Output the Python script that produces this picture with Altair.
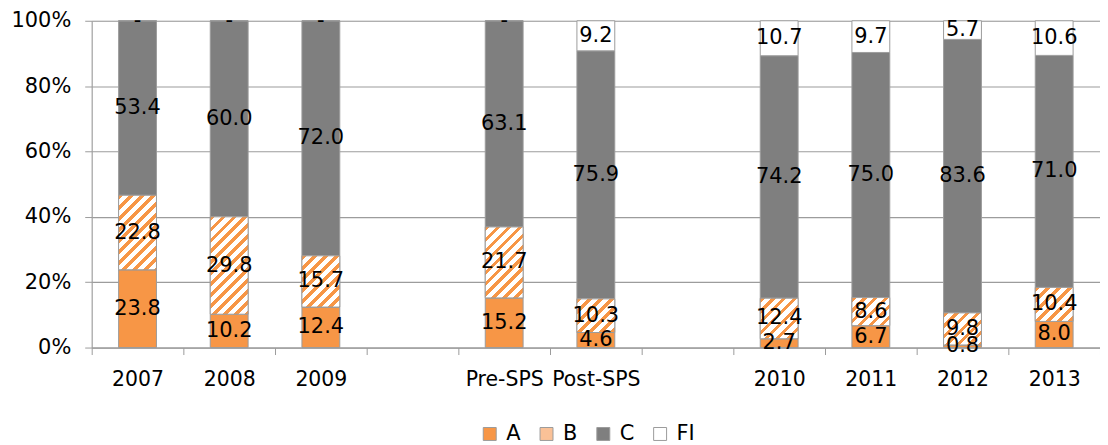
import math
import altair as alt
import pandas as pd

# ---- data ----
categories = ["2007", "2008", "2009", "gap1", "Pre-SPS", "Post-SPS", "gap2",
              "2010", "2011", "2012", "2013"]
bar_cats = ["2007", "2008", "2009", "Pre-SPS", "Post-SPS", "2010", "2011", "2012", "2013"]
series = ["A", "B", "C", "FI"]
a_vals = [23.8, 10.2, 12.4, 15.2, 4.6, 2.7, 6.7, 0.8, 8.0]
b_vals = [22.8, 29.8, 15.7, 21.7, 10.3, 12.4, 8.6, 9.8, 10.4]
c_vals = [53.4, 60.0, 72.0, 63.1, 75.9, 74.2, 75.0, 83.6, 71.0]
fi_vals = [0, 0, 0, 0, 9.2, 10.7, 9.7, 5.7, 10.6]
y_ticks = [0, 0.2, 0.4, 0.6, 0.8, 1.0]

rows = []
for i, cat in enumerate(bar_cats):
    for j, (s, vals) in enumerate(zip(series, [a_vals, b_vals, c_vals, fi_vals])):
        rows.append({"cat": cat, "series": s, "order": j, "v": vals[i]})
df = pd.DataFrame(rows)

# ---- layout / style ----
W, H = 1012, 328
BAR_W = 38
ORANGE = "#F79646"
GRID = "#9C9C9C"
FONT = "DejaVu Sans"

x_enc = alt.X("cat:N", scale=alt.Scale(domain=categories, paddingInner=0, paddingOuter=0),
              axis=alt.Axis(title=None, labelAngle=0, tickBand="extent", tickSize=7,
                            tickColor=GRID, domainColor=GRID, labelFontSize=20.5,
                            labelFont=FONT, labelColor="#000", labelPadding=15,
                            labelExpr="indexof(datum.label, 'gap') == 0 ? '' : datum.label"))
y_scale = alt.Scale(domain=[0, 1], nice=False)

base = alt.Chart(df)

bars = base.mark_bar(size=BAR_W, stroke=GRID, strokeWidth=1).encode(
    x=x_enc,
    y=alt.Y("y0:Q", scale=y_scale,
            axis=alt.Axis(title=None, values=y_ticks, format=".0%", grid=True, gridColor=GRID,
                          gridWidth=1.2, domainColor=GRID, tickColor=GRID, tickSize=7,
                          labelFontSize=21, labelFont=FONT, labelColor="#000", labelPadding=14)),
    y2="y1:Q",
    fill=alt.Fill("series:N",
                  scale=alt.Scale(domain=series, range=[ORANGE, "#FAC197", "#7F7F7F", "#FFFFFF"]),
                  legend=alt.Legend(title=None, orient="none", direction="horizontal",
                                    legendX=389, legendY=404, symbolType="square",
                                    symbolSize=169, symbolStrokeColor=GRID, symbolStrokeWidth=1,
                                    labelFontSize=21, labelFont=FONT, labelColor="#000",
                                    labelOffset=6, columnPadding=15, padding=0)),
)

# hatched B segments (diagonal stripes drawn with hard-stop gradients)
stripe_layers = []
PERIOD = 11.0
for i, cat in enumerate(bar_cats):
    tot = a_vals[i] + b_vals[i] + c_vals[i] + fi_vals[i]
    h = b_vals[i] / tot * H
    w = float(BAR_W)
    k = (w + h) * w / (w * w + h * h)
    n = (w + h) / PERIOD
    stops = []
    j = 0
    while j / n < 1:
        o0 = j / n
        o1 = min((j + 0.42) / n, 1.0)
        o2 = min((j + 1) / n, 1.0)
        stops += [{"offset": o0, "color": ORANGE}, {"offset": o1, "color": ORANGE},
                  {"offset": o1, "color": "#FFFFFF"}, {"offset": o2, "color": "#FFFFFF"}]
        j += 1
    grad = {"gradient": "linear", "x1": 0, "y1": 0, "x2": k, "y2": k * h / w, "stops": stops}
    layer = base.mark_bar(size=BAR_W, fill=grad, stroke=GRID, strokeWidth=1).encode(
        x=alt.X("cat:N"), y=alt.Y("y0:Q"), y2="y1:Q"
    ).transform_filter(
        (alt.datum.cat == cat) & (alt.datum.series == "B")
    )
    stripe_layers.append(layer)

labels = base.mark_text(fontSize=21, font=FONT, color="#000", baseline="middle").encode(
    x=alt.X("cat:N"), y=alt.Y("mid:Q"), text="label:N"
).transform_calculate(
    mid="(datum.y0 + datum.y1) / 2",
    label="datum.v == 0 ? '-' : format(datum.v, '.1f')",
)

chart = alt.layer(bars, *stripe_layers, labels).transform_stack(
    stack="v", as_=["y0", "y1"], groupby=["cat"], sort=[alt.SortField("order")],
    offset="normalize",
).properties(
    width=W, height=H,
    autosize=alt.AutoSizeParams(type="none"),
    padding={"left": 84, "top": 12, "right": 0, "bottom": 97},
).configure_view(stroke=None).configure(background="#FFFFFF")

chart.save("out.html", embed_options={"renderer": "svg", "actions": False})
